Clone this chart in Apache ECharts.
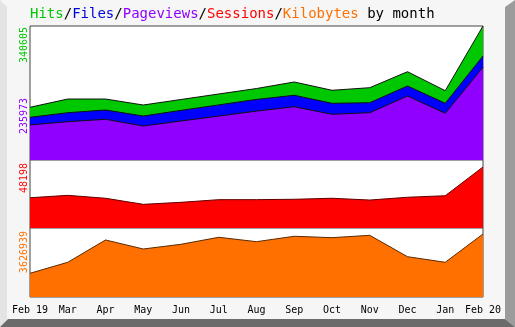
<!DOCTYPE html>
<html>
<head>
<meta charset="utf-8">
<script src="https://cdn.jsdelivr.net/npm/echarts@6/dist/echarts.min.js"></script>
<style>
  html, body { margin: 0; padding: 0; background: #f6f6f6; }
  #chart { width: 515px; height: 327px; }
</style>
</head>
<body>
<div id="chart"></div>
<script>
// Monthly usage statistics, Feb 2019 - Feb 2020
const months = ['Feb 19', 'Mar', 'Apr', 'May', 'Jun', 'Jul', 'Aug', 'Sep', 'Oct', 'Nov', 'Dec', 'Jan', 'Feb 20'];
const hits      = [134000, 155000, 155000, 139800, 153800, 167800, 181700, 198300, 177200, 183800, 224400, 176200, 340605];
const files     = [108500, 120200, 127100, 111800, 126100, 140100, 154000, 164500, 144100, 145600, 188100, 144100, 264350];
const pageviews = [ 89000,  97400, 103500,  86400,  99100, 111800, 124300, 135500, 116200, 120200, 162700, 118700, 235973];
const sessions  = [ 23900,  25800,  23500,  18700,  20300,  22400,  22400,  22700,  23500,  22100,  24300,  25500,  48198];
const kilobytes = [1364000, 1998000, 3282000, 2763000, 3034000, 3437000, 3184000, 3495000, 3414000, 3550000, 2320000, 1998000, 3626939];

const FONT = 'DejaVu Sans Mono';
const C = {
  hits: '#00c800', files: '#0000ff', pages: '#9000ff',
  sessions: '#ff0000', kbytes: '#ff7000'
};

const maxOf = a => Math.max.apply(null, a);

const chart = echarts.init(document.getElementById('chart'), null, { renderer: 'canvas' });

const L = 30, R = 32;
const grids = [
  { left: L, right: R, top: 26, height: 134 },
  { left: L, right: R, top: 160, height: 68 },
  { left: L, right: R, top: 228, height: 69 }
].map(g => Object.assign({ show: true, backgroundColor: '#ffffff', borderColor: '#444', borderWidth: 1 }, g));

const xAxes = [0, 1, 2].map(i => ({
  type: 'category', gridIndex: i, data: months, boundaryGap: false,
  axisLine: { show: false }, axisTick: { show: false },
  axisLabel: i === 2 ? { show: true, fontFamily: FONT, fontSize: 10, color: '#000', margin: 8, interval: 0 } : { show: false },
  splitLine: { show: false }
}));

const yAxes = [
  { gridIndex: 0, min: 0, max: maxOf(hits) },
  { gridIndex: 1, min: 0, max: maxOf(sessions) * 1.115 },
  { gridIndex: 2, min: 0, max: maxOf(kilobytes) * 1.095 }
].map(y => Object.assign({ type: 'value', show: false, splitLine: { show: false } }, y));

function area(name, data, idx, fill, edge) {
  return {
    name, type: 'line', data, xAxisIndex: idx, yAxisIndex: idx,
    symbol: 'none', silent: true, animation: false,
    lineStyle: { color: edge, width: 1 },
    areaStyle: { color: fill, opacity: 1 }
  };
}

// Rotated maximum labels on the left side
function upLabel(text, color, yTop) {
  return {
    type: 'text', x: 24, y: yTop, rotation: Math.PI / 2, z: 10,
    style: { text, fill: color, font: '10px "' + FONT + '"', align: 'right', verticalAlign: 'middle' }
  };
}

const titleParts = [
  ['Hits', 'g'], ['/', 'k'], ['Files', 'b'], ['/', 'k'], ['Pageviews', 'p'], ['/', 'k'],
  ['Sessions', 'r'], ['/', 'k'], ['Kilobytes', 'o'], [' by month', 'k']
];

chart.setOption({
  animation: false,
  backgroundColor: '#f6f6f6',
  grid: grids,
  xAxis: xAxes,
  yAxis: yAxes,
  graphic: [
    { type: 'polygon', shape: { points: [[0, 0], [7, 7], [7, 319], [0, 327]] }, style: { fill: '#e4e4e4' }, z: -1 },
    { type: 'polygon', shape: { points: [[505, 7], [515, 0], [515, 327], [505, 319]] }, style: { fill: '#9c9c9c' }, z: -1 },
    { type: 'polygon', shape: { points: [[0, 327], [8, 319], [505, 319], [515, 327]] }, style: { fill: '#6b6b6b' }, z: -1 },
    {
      type: 'text', x: 30, y: 14, z: 10,
      style: {
        text: titleParts.map(p => '{' + p[1] + '|' + p[0] + '}').join(''),
        font: '14px "' + FONT + '"', verticalAlign: 'middle',
        rich: {
          g: { fill: C.hits, font: '14px "' + FONT + '"' },
          b: { fill: '#0000e0', font: '14px "' + FONT + '"' },
          p: { fill: C.pages, font: '14px "' + FONT + '"' },
          r: { fill: C.sessions, font: '14px "' + FONT + '"' },
          o: { fill: C.kbytes, font: '14px "' + FONT + '"' },
          k: { fill: '#000', font: '14px "' + FONT + '"' }
        }
      }
    },
    upLabel(String(maxOf(hits)), C.hits, 27),
    upLabel(String(maxOf(pageviews)), C.pages, 98),
    upLabel(String(maxOf(sessions)), C.sessions, 163),
    upLabel(String(maxOf(kilobytes)), C.kbytes, 231)
  ],
  series: [
    area('Hits', hits, 0, C.hits, '#111'),
    area('Files', files, 0, C.files, '#111'),
    area('Pageviews', pageviews, 0, C.pages, '#111'),
    area('Sessions', sessions, 1, C.sessions, '#600000'),
    area('Kilobytes', kilobytes, 2, C.kbytes, '#5a2a00')
  ]
});
</script>
</body>
</html>
